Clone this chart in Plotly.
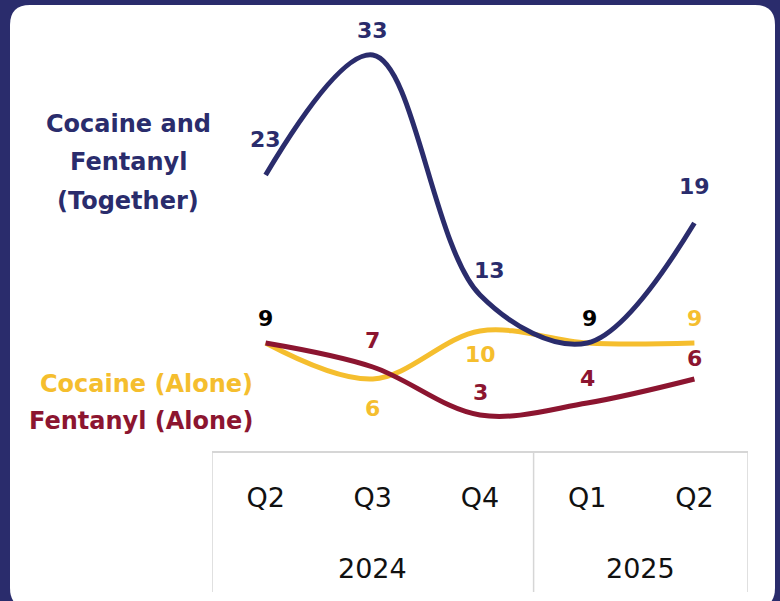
import plotly.graph_objects as go

# ---------------- data ----------------
quarters = ["Q2", "Q3", "Q4", "Q1", "Q2"]
years = ["2024", "2024", "2024", "2025", "2025"]
year_labels = ["2024", "2025"]
together = [23, 33, 13, 9, 19]
cocaine_alone = [9, 6, 10, 9, 9]
fentanyl_alone = [9, 7, 3, 4, 6]

# ---------------- style ----------------
NAVY = "#2a2c6c"
YELLOW = "#f5be2e"
MAROON = "#8c1530"
GRID = "#d6d6d6"
FONT = "DejaVu Sans"

W, H = 780, 601
ML, MR, MT, MB = 212, 32, 20, 150
PW, PH = W - ML - MR, H - MT - MB
PX_PER_UNIT = 12.0
YMAX = PH / PX_PER_UNIT


def px2paper_x(px):
    return (px - ML) / PW


def px2paper_y(py):
    return 1 - (py - MT) / PH


xs = list(range(len(quarters)))

fig = go.Figure()
for vals, color in [(cocaine_alone, YELLOW), (fentanyl_alone, MAROON), (together, NAVY)]:
    fig.add_trace(go.Scatter(
        x=xs, y=vals, mode="lines",
        line=dict(color=color, width=5, shape="spline", smoothing=1.0),
        hoverinfo="skip", showlegend=False,
    ))

# ---- card background ----
L, R, T, B, r = 10, 775, 5, 608, 20
X, Y = px2paper_x, px2paper_y
card = (
    f"M {X(L+r)},{Y(T)} L {X(R-r)},{Y(T)} Q {X(R)},{Y(T)} {X(R)},{Y(T+r)} "
    f"L {X(R)},{Y(B-r)} Q {X(R)},{Y(B)} {X(R-r)},{Y(B)} "
    f"L {X(L+r)},{Y(B)} Q {X(L)},{Y(B)} {X(L)},{Y(B-r)} "
    f"L {X(L)},{Y(T+r)} Q {X(L)},{Y(T)} {X(L+r)},{Y(T)} Z"
)
shapes = [dict(type="path", path=card, xref="paper", yref="paper",
               fillcolor="white", line=dict(width=0), layer="below")]

# ---- category box dividers ----
for xv in [-0.5, 2.5, 4.5]:
    shapes.append(dict(type="line", xref="x", yref="paper", x0=xv, x1=xv,
                       y0=0, y1=px2paper_y(592), line=dict(color=GRID, width=1.5),
                       layer="below"))

annotations = []
# year labels
for yl in year_labels:
    idx = [i for i, y in enumerate(years) if y == yl]
    annotations.append(dict(x=sum(idx) / len(idx), y=px2paper_y(568), xref="x", yref="paper",
                            text=yl, showarrow=False, yanchor="middle",
                            font=dict(family=FONT, size=27, color="#111111")))

# ---- value labels: (series, color, yshift, xshift) per point ----
label_specs = {
    "together": (together, NAVY, [36, 25, 25, 25, 37], [0, 0, 9, 2, 0]),
    "cocaine": (cocaine_alone, YELLOW, [25, -29, -23, None, 25], [0, 0, 0, 0, 0]),
    "fentanyl": (fentanyl_alone, MAROON, [None, 27, 23, 25, 21], [0, 0, 0, 0, 0]),
}
for name, (vals, color, ysh, xsh) in label_specs.items():
    for i, v in enumerate(vals):
        if ysh[i] is None:
            continue
        col = color
        # shared points get black labels
        if name == "together" and v == cocaine_alone[i]:
            col = "black"
        if name == "cocaine" and v == fentanyl_alone[i] and i == 0:
            col = "black"
        annotations.append(dict(x=xs[i], y=v, xref="x", yref="y", text=str(v),
                                showarrow=False, yanchor="middle", xanchor="center",
                                yshift=ysh[i], xshift=xsh[i],
                                font=dict(family=FONT, size=22, color=col, weight="bold")))

# ---- series name labels ----
series_names = [
    (["Cocaine and", "Fentanyl", "(Together)"], NAVY, 128, [124, 162, 201]),
    (["Cocaine (Alone)"], YELLOW, 146, [384]),
    (["Fentanyl (Alone)"], MAROON, 141, [421]),
]
for lines, color, cx, cys in series_names:
    for txt, cy in zip(lines, cys):
        annotations.append(dict(x=px2paper_x(cx), y=px2paper_y(cy), xref="paper", yref="paper",
                                text=txt, showarrow=False, xanchor="center", yanchor="middle",
                                font=dict(family=FONT, size=24, color=color, weight="bold")))

fig.update_layout(
    width=W, height=H,
    margin=dict(l=ML, r=MR, t=MT, b=MB, autoexpand=False),
    paper_bgcolor=NAVY, plot_bgcolor="rgba(0,0,0,0)",
    shapes=shapes, annotations=annotations,
    xaxis=dict(range=[-0.5, 4.5], tickvals=xs, ticktext=quarters,
               showgrid=False, zeroline=False, showline=True, linecolor=GRID, linewidth=1.5,
               ticks="outside", ticklen=22, tickcolor="rgba(0,0,0,0)",
               tickfont=dict(family=FONT, size=27, color="#111111"), automargin=False),
    yaxis=dict(range=[0, YMAX], visible=False, automargin=False),
)

fig.write_html("out.html", config={"displayModeBar": False},
               post_script="document.body.style.margin='0';document.body.style.overflow='hidden';")
